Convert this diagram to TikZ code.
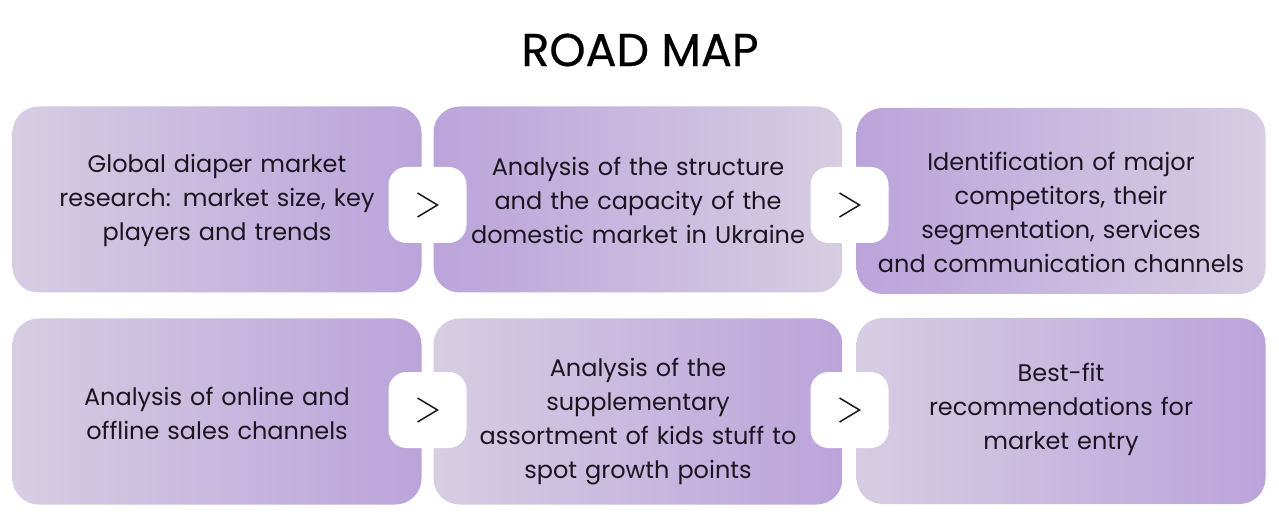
\documentclass[tikz,border=0pt]{standalone}
\usepackage{fontspec}
\setmainfont{Poppins}
\newfontfamily\titlefont[FakeBold=0.6]{Poppins}
\definecolor{ink}{HTML}{1B1522}
\definecolor{lilaclight}{HTML}{D6CDE3}
\definecolor{lilacdark}{HTML}{BBA4DA}
\begin{document}
\begin{tikzpicture}[x=1pt, y=-1pt,
  box/.style={rounded corners=26pt, minimum width=409pt, minimum height=186pt,
    inner sep=0pt},
  boxtext/.style={text width=400pt, align=center, text=ink, inner sep=0pt,
    font=\fontsize{24}{34}\selectfont},
  badge/.style={fill=white, rounded corners=18pt, minimum width=78pt,
    minimum height=76pt, inner sep=0pt},
  chevron/.style={draw=ink, line width=1.5pt, line join=miter}]
\useasboundingbox[fill=white] (0,0) rectangle (1279,518);
 \node[text=black, font=\titlefont\fontsize{46}{46}\selectfont] (title) at (640,50) {ROAD MAP};
 \node[box, left color=lilaclight, right color=lilacdark] (1) at (217,199.5) {};
 \node[box, left color=lilacdark, right color=lilaclight] (2) at (638,199.5) {};
 \node[box, left color=lilacdark, right color=lilaclight] (3) at (1061,201) {};
 \node[box, left color=lilaclight, right color=lilacdark] (4) at (217,411.5) {};
 \node[box, left color=lilaclight, right color=lilacdark] (5) at (638,411.5) {};
 \node[box, left color=lilaclight, right color=lilacdark] (6) at (1061,411) {};
 \node[boxtext] (t1) at (217,200.5) {Global diaper market\\research: market size, key\\players and trends};
 \node[boxtext] (t2) at (638,200.5) {Analysis of the structure\\and the capacity of the\\domestic market in Ukraine};
 \node[boxtext] (t3) at (1061,212.5) {Identification of major\\competitors, their\\segmentation, services\\and communication channels};
 \node[boxtext] (t4) at (217,413.5) {Analysis of online and\\offline sales channels};
 \node[boxtext] (t5) at (638,421.5) {Analysis of the\\supplementary\\assortment of kids stuff to\\spot growth points};
 \node[boxtext] (t6) at (1061,409.5) {Best-fit\\recommendations for\\market entry};
 \node[badge] (12) at (427.5,205) {};
 \node[badge] (23) at (849.5,205) {};
 \node[badge] (45) at (427.5,410) {};
 \node[badge] (56) at (849.5,410) {};
\draw[chevron] ([shift={(-10,-12)}]12.center) -- ([shift={(10,0)}]12.center) -- ([shift={(-10,12)}]12.center);
\draw[chevron] ([shift={(-10,-12)}]23.center) -- ([shift={(10,0)}]23.center) -- ([shift={(-10,12)}]23.center);
\draw[chevron] ([shift={(-10,-12)}]45.center) -- ([shift={(10,0)}]45.center) -- ([shift={(-10,12)}]45.center);
\draw[chevron] ([shift={(-10,-12)}]56.center) -- ([shift={(10,0)}]56.center) -- ([shift={(-10,12)}]56.center);
\end{tikzpicture}
\end{document}
